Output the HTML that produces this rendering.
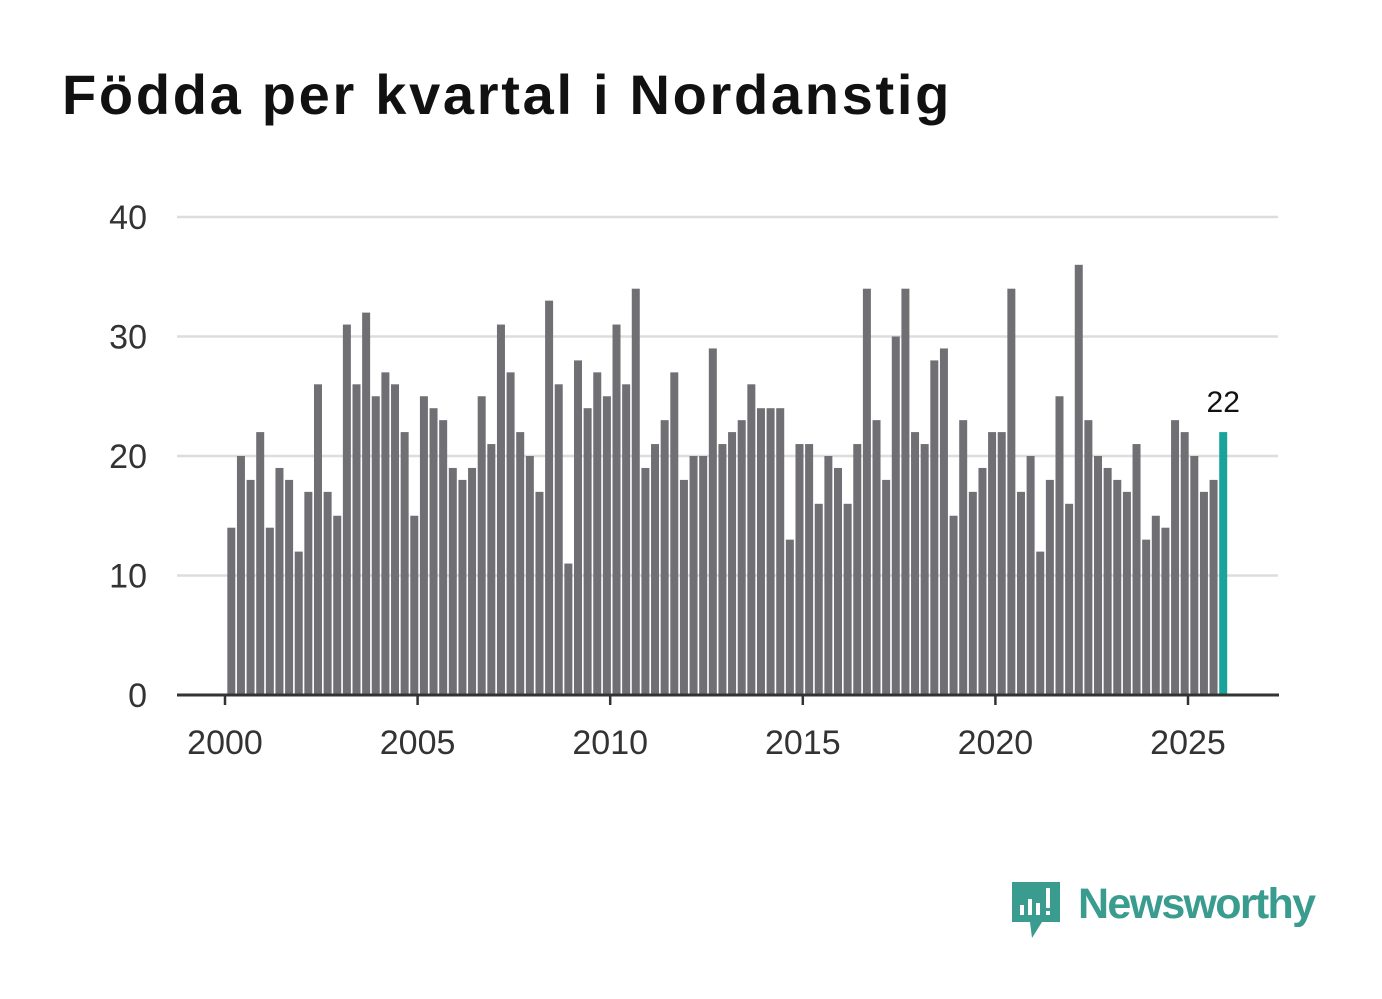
<!DOCTYPE html>
<html><head><meta charset="utf-8"><style>
body{margin:0;background:#fff;width:1382px;height:999px;overflow:hidden;font-family:"Liberation Sans",sans-serif}
h1{position:absolute;left:62px;top:62px;margin:0;font-size:56px;letter-spacing:2.7px;font-weight:bold;color:#111}
svg{position:absolute;left:0;top:0}
</style></head><body>
<h1>Födda per kvartal i Nordanstig</h1>
<svg id="c" width="1382" height="999">
<g id="logo">
<path d="M1012 882 h48 v40 h-18 l-10 16 l-2 -16 h-18 z" fill="#3a9c8f"/>
<rect x="1020" y="905" width="4" height="10" fill="#fff"/><rect x="1028" y="899" width="4" height="16" fill="#fff"/><rect x="1036" y="903" width="4" height="12" fill="#fff"/><rect x="1046" y="888" width="4" height="20" fill="#fff"/><rect x="1046" y="911" width="4" height="4" fill="#fff"/>
<text x="1078" y="918" font-size="43" font-weight="600" fill="#3a9c8f" font-family="Liberation Sans, sans-serif" textLength="238">Newsworthy</text>
</g>
</svg>
<script>
const values=[14,20,18,22,14,19,18,12,17,26,17,15,31,26,32,25,27,26,22,15,25,24,23,19,18,19,25,21,31,27,22,20,17,33,26,11,28,24,27,25,31,26,34,19,21,23,27,18,20,20,29,21,22,23,26,24,24,24,13,21,21,16,20,19,16,21,34,23,18,30,34,22,21,28,29,15,23,17,19,22,22,34,17,20,12,18,25,16,36,23,20,19,18,17,21,13,15,14,23,22,20,17,18,22];
const yTicks=[0,10,20,30,40];
const xTicks=[2000,2005,2010,2015,2020,2025];
const startYear=2000;
const svg=document.getElementById('c');const NS='http://www.w3.org/2000/svg';
const y=v=>695-v*11.95;const x=yr=>225+(yr-2000)*38.52;
function mk(t,a){const e=document.createElementNS(NS,t);for(const k in a)e.setAttribute(k,a[k]);svg.appendChild(e);return e;}
yTicks.forEach(t=>{
 if(t>0){const l=mk('line',{x1:177,x2:1278,y1:y(t),y2:y(t),stroke:'#ddd','stroke-width':2.5});
 
 }
 const tx=mk('text',{x:147,y:y(t)+12,'text-anchor':'end','font-size':34,fill:'#333'});tx.textContent=t;
 
 
});
values.forEach((v,i)=>{
 const cx=x(startYear+(i+0.5)/4)+1.5;const last=i===values.length-1;
 const r=mk('rect',{x:cx-4,y:y(v),width:8,height:y(0)-y(v),fill:last?'#1aa39a':'#707074'});
 
 
 if(last){const t=mk('text',{x:cx,y:y(v)-20,'text-anchor':'middle','font-size':30,fill:'#111'});t.textContent=v;
 
 }
});
const ax=mk('line',{x1:177,x2:1279,y1:695,y2:695,stroke:'#333','stroke-width':3});


xTicks.forEach(t=>{
 const l=mk('line',{x1:x(t),x2:x(t),y1:695,y2:705,stroke:'#333','stroke-width':2.5});
 
 
 const tx=mk('text',{x:x(t),y:754,'text-anchor':'middle','font-size':34,fill:'#333'});tx.textContent=t;
 
 
});
</script>
</body></html>
